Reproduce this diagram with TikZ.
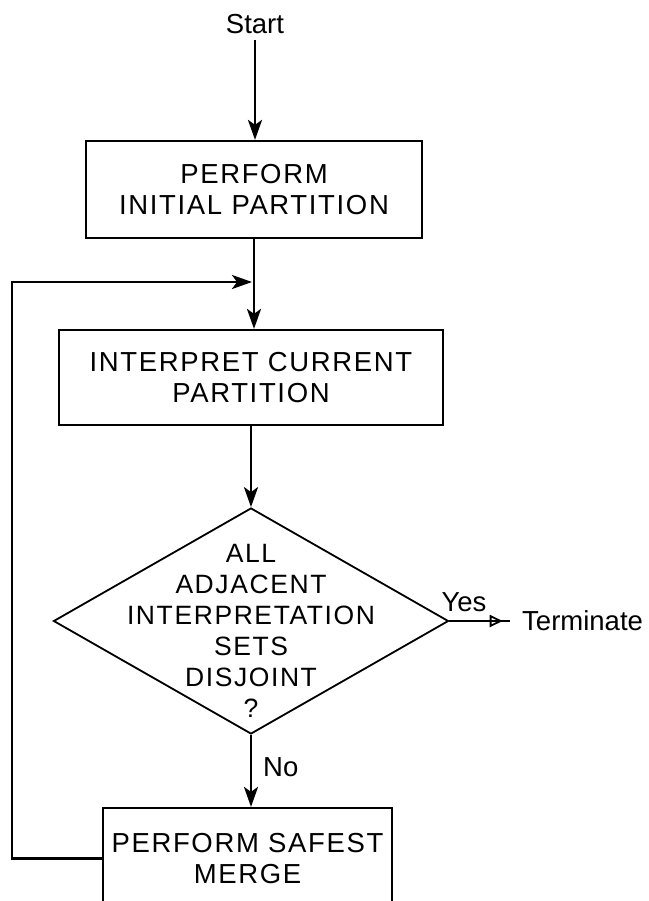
\documentclass[tikz,border=0pt]{standalone}
\usepackage{fontspec}
\setmainfont{Liberation Sans}
\newfontfamily\boxfont{Liberation Sans}[LetterSpace=6]
\usetikzlibrary{arrows.meta,shapes.geometric,decorations.markings}
\begin{document}
\begin{tikzpicture}[x=1pt,y=-1pt,
  boxnode/.style={draw,line width=2.2pt,inner sep=0pt,align=center,
    font=\boxfont\fontsize{27.5}{31}\selectfont},
  diatext/.style={inner sep=0pt,align=center,font=\boxfont\fontsize{26.5}{31}\selectfont},
  lbl/.style={font=\fontsize{27.5}{31}\selectfont,inner sep=0pt},
  arr/.style={line width=2.8pt,-{Stealth[length=20pt,width=14pt,inset=5pt]}},
  plain/.style={line width=2.8pt}]
\useasboundingbox (0,0) rectangle (648,901);
\fill[white] (0,0) rectangle (648,901);
\clip (0,0) rectangle (648,901);

\node[lbl] (start) at (255,24) {Start};
\node[boxnode,minimum width=336pt,minimum height=97pt] (b1) at (254,189.5)
  {PERFORM\\INITIAL PARTITION};
\node[boxnode,minimum width=384pt,minimum height=95pt] (b2) at (251,377.5)
  {INTERPRET CURRENT\\PARTITION};
\node[diamond,draw,line width=1.8pt,inner sep=0pt,minimum width=395pt,minimum height=226pt] (dia) at (251,621) {};
\node[diatext] (diat) at (251,631)
  {ALL\\ADJACENT\\INTERPRETATION\\SETS\\DISJOINT\\?};
\node[boxnode,minimum width=289pt,minimum height=101pt] (b3) at (247.5,858.5)
  {PERFORM SAFEST\\MERGE};
\node[lbl,anchor=base west,inner xsep=12pt] (term) at (510,630) {Terminate};
\node[lbl] (yes) at (464,602) {Yes};
\node[lbl,anchor=west] (no) at (263,767) {No};

\coordinate (fbcorner) at (12,282);
\coordinate (join) at (b1.south |- fbcorner);

\draw[arr] (start.south) ++(0,6) -- (start.south |- b1.north);
\draw[arr] (b1.south) -- (b1.south |- b2.north);
\draw[arr] (b3.west) -| (fbcorner) -- ([xshift=-2pt]join);
\draw[arr] (b2.south) -- (dia.north);
\draw[arr] (dia.south) -- (dia.south |- b3.north);
\draw[line width=2.4pt,decoration={markings,mark=at position 0.88 with {\arrow{Triangle[open,length=13pt,width=12pt,line width=1.8pt]}}},postaction={decorate}]
  (dia.east) -- (term.base west |- dia.east);
\end{tikzpicture}
\end{document}
